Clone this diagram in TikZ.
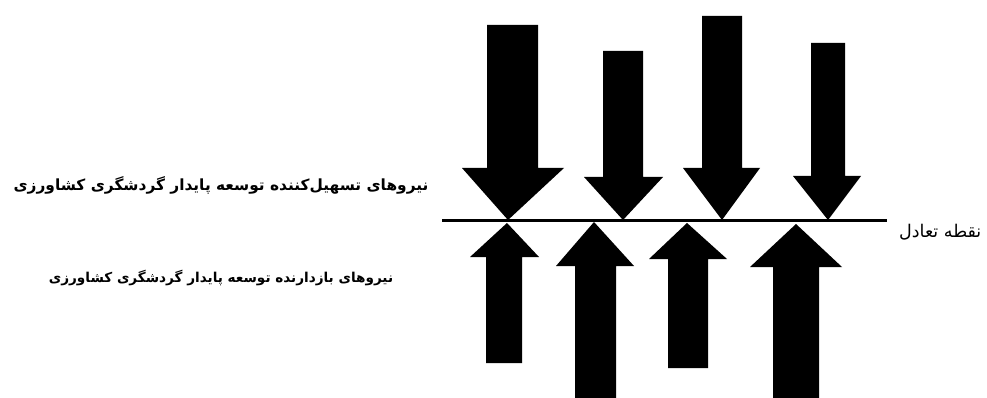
\documentclass[tikz,border=0pt]{standalone}
\usepackage{fontspec}
\usepackage{tikz}
\usetikzlibrary{positioning}
\TeXXeTstate=1
\newfontfamily\arabicfont[Script=Arabic]{DejaVu Sans}
\tikzset{
  force/.style={fill=black, draw=none},
  balance/.style={line width=3pt, color=black},
  label/.style={inner sep=0pt, font=\arabicfont\bfseries\fontsize{#1}{16}\selectfont},
  sidelabel/.style={inner sep=0pt, font=\arabicfont\fontsize{17.5}{20}\selectfont}
}

\begin{document}
\begin{tikzpicture}[x=1pt, y=-1pt]
  \useasboundingbox (0,0) rectangle (987,398);
  \clip (0,0) rectangle (987,398);

  % Equilibrium line
  \coordinate (lineL) at (442,220);
  \coordinate (lineR) at (887,220);
  \draw[balance] (lineL) -- (lineR);

  % Forces: shaft left, shaft right, tail, head left, head right, head base, tip x, tip y
  \foreach \sl/\sr/\tl/\hl/\hr/\hy/\tx/\ty in {
      487/538/25/462/564/168/508/220,
      603/643/51/584/663/177/623/220,
      702/742/16/683/760/168/722/220,
      811/845/43/793/861/176/828/220,
      486/522/363/470/539/257/507/223,
      575/616/405/556/634/266/594/222,
      668/708/368/649/727/259/687/223,
      773/819/405/750/842/267/796/224}{
    \fill[force] (\sl,\tl) -- (\sr,\tl) -- (\sr,\hy) -- (\hr,\hy) -- (\tx,\ty)
      -- (\hl,\hy) -- (\sl,\hy) -- cycle;
  }

  % Labels
  \node[label=15.4] (facil) at (221,185) {\beginR نیروهای تسهیل‌کننده توسعه پایدار گردشگری کشاورزی\endR};
  \node[label=13.6] (restr) at (221,278) {\beginR نیروهای بازدارنده توسعه پایدار گردشگری کشاورزی\endR};
  \node[sidelabel, anchor=west] (equil) at (899,232) {\beginR نقطه تعادل\endR};
\end{tikzpicture}
\end{document}
